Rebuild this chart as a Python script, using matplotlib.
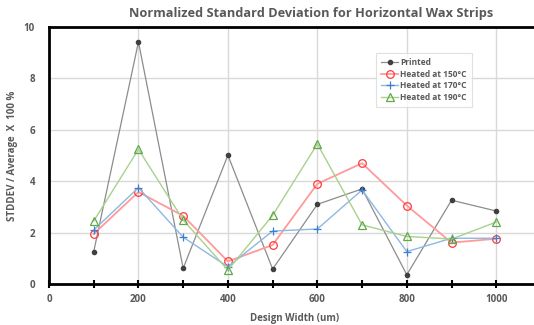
import matplotlib.pyplot as plt
from matplotlib.ticker import MultipleLocator

# datos
widths = [100, 200, 300, 400, 500, 600, 700, 800, 900, 1000]
printed = [1.26, 9.42, 0.61, 5.01, 0.58, 3.10, 3.70, 0.36, 3.26, 2.84]
heated_150 = [1.95, 3.58, 2.65, 0.88, 1.52, 3.90, 4.70, 3.05, 1.61, 1.76]
heated_170 = [2.10, 3.75, 1.82, 0.67, 2.06, 2.14, 3.66, 1.26, 1.78, 1.78]
heated_190 = [2.45, 5.24, 2.49, 0.54, 2.67, 5.45, 2.30, 1.85, 1.75, 2.41]

plt.rcParams['font.family'] = ['Open Sans', 'DejaVu Sans']
txt = '#595959'

fig = plt.figure(figsize=(5.34, 3.25), dpi=100)
W, H = 534, 325
ax = fig.add_axes([49 / W, 1 - 284 / H, (541 - 49) / W, (284 - 27) / H])

ax.plot(widths, printed, color='#8c8c8c', lw=0.9, marker='o', ms=3,
        mfc='#404040', mec='#404040', label='Printed', zorder=3)
ax.plot(widths, heated_150, color='#ff9a9a', lw=1.3, marker='o', ms=5.5,
        mfc='none', mec='#ff3b3b', mew=0.9, label='Heated at 150°C', zorder=3)
ax.plot(widths, heated_170, color='#8db8e2', lw=1.0, marker='+', ms=6,
        mec='#3a7fd0', mew=0.9, label='Heated at 170°C', zorder=3)
ax.plot(widths, heated_190, color='#a9d18e', lw=1.0, marker='^', ms=5.5,
        mfc='none', mec='#5fa845', mew=0.9, label='Heated at 190°C', zorder=3)

ax.set_xlim(0, 1100)
ax.set_ylim(0, 10)
ax.xaxis.set_major_locator(MultipleLocator(200))
ax.xaxis.set_minor_locator(MultipleLocator(100))
ax.yaxis.set_major_locator(MultipleLocator(2))
ax.grid(True, color='#d9d9d9', lw=1.0, zorder=0)

for s in ['left', 'bottom', 'top']:
    ax.spines[s].set_linewidth(2)
    ax.spines[s].set_color('black')
ax.spines['right'].set_visible(False)

ax.tick_params(axis='y', length=0, pad=10, labelsize=7, labelcolor=txt)
ax.tick_params(axis='x', which='both', direction='inout', length=6, width=1.5,
               pad=4, labelsize=7, labelcolor=txt)
for lbl in ax.get_xticklabels() + ax.get_yticklabels():
    lbl.set_fontweight('bold')

ax.set_xlabel('Design Width (um)', fontsize=7, fontweight='bold', color=txt, labelpad=6)
ax.set_ylabel('STDDEV / Average  X  100 %', fontsize=7, fontweight='bold', color=txt, labelpad=4)
fig.text(311 / W, 1 - 14 / H, 'Normalized Standard Deviation for Horizontal Wax Strips',
         ha='center', va='center', fontsize=9.2, fontweight='bold', color=txt)

leg = ax.legend(loc='upper left', bbox_to_anchor=((372 - 49) / 492, 1 - (49 - 27) / 257),
                fontsize=6, frameon=True, fancybox=False, edgecolor='#d9d9d9',
                handlelength=2.0, handletextpad=0.3, labelspacing=0.3, borderpad=0.6)
leg.get_frame().set_linewidth(0.8)
for t in leg.get_texts():
    t.set_fontweight('bold')
    t.set_color(txt)

fig.savefig('out.png', dpi=100)
